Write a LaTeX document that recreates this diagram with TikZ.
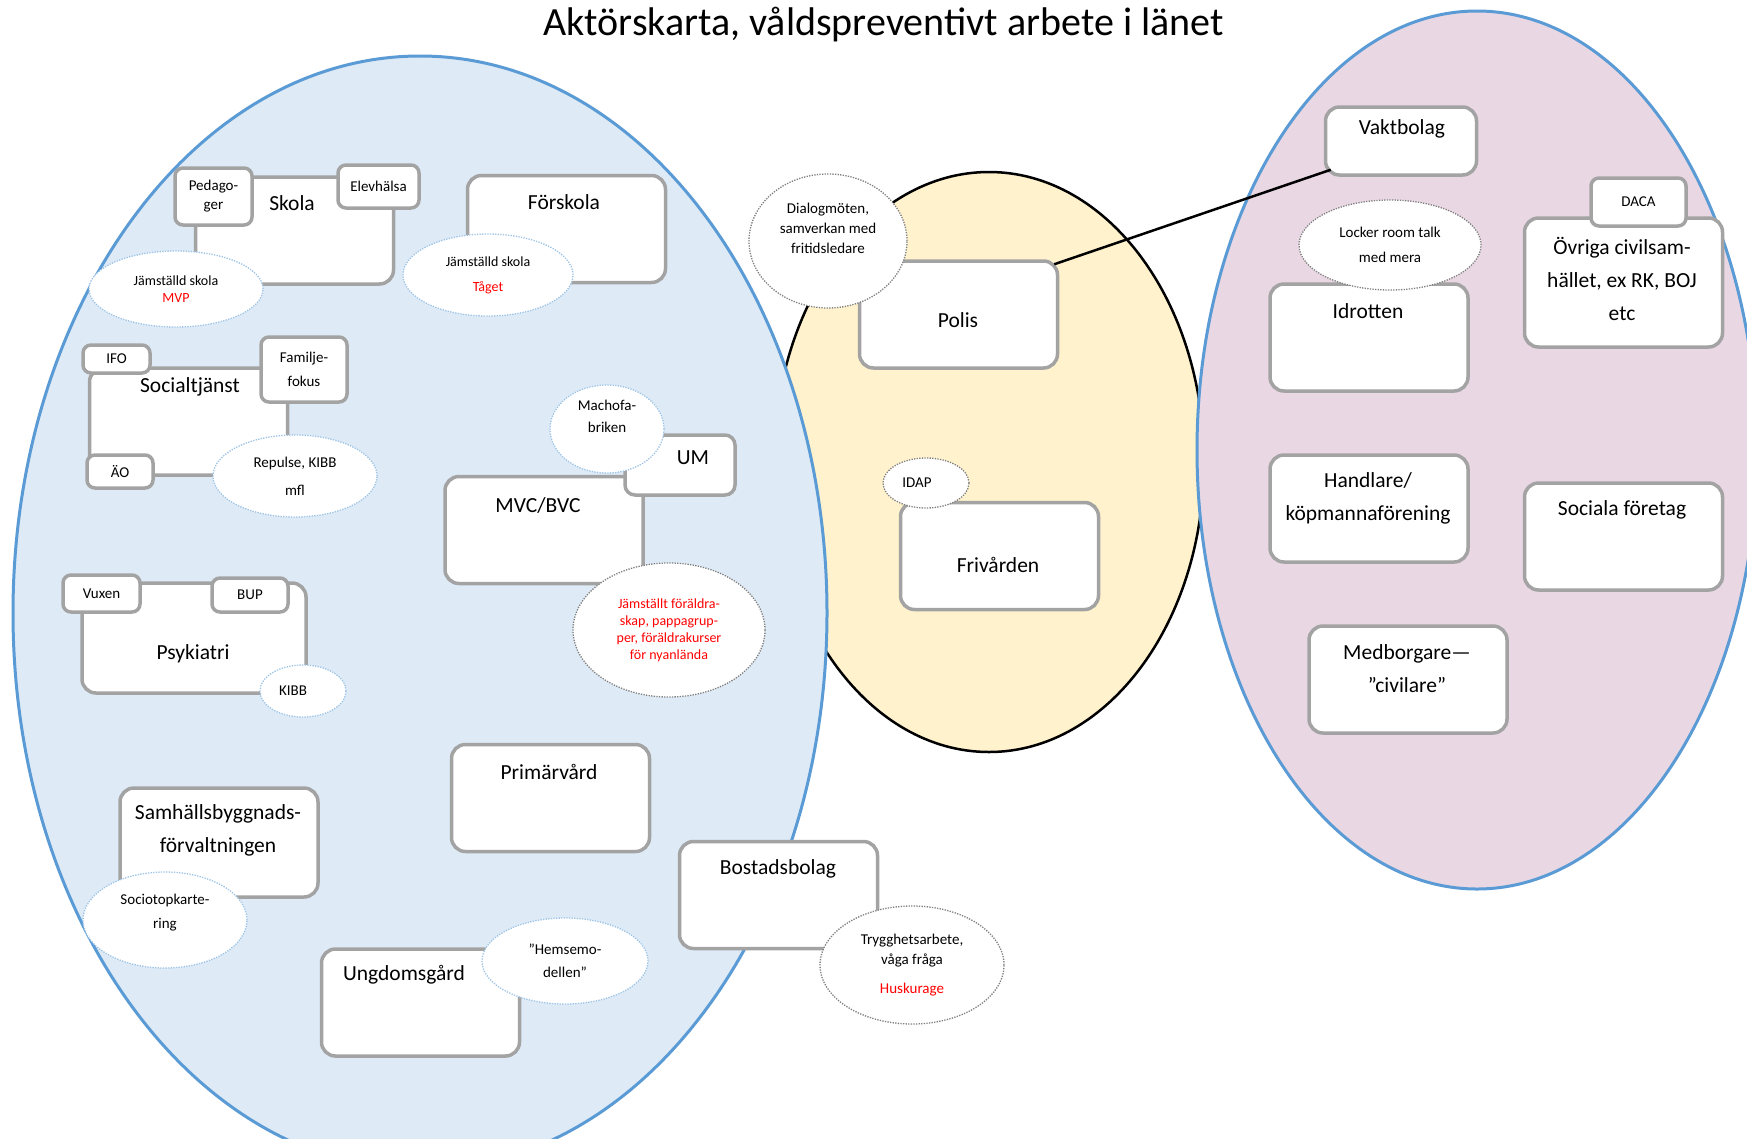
\documentclass[tikz,border=0pt]{standalone}
\usepackage{fontspec}
\setmainfont{Carlito}
\usetikzlibrary{shapes.geometric}

\definecolor{leftfill}{HTML}{DEEBF7}
\definecolor{midfill}{HTML}{FFF2CC}
\definecolor{rightfill}{HTML}{E9D8E4}
\definecolor{rimblue}{HTML}{5B9BD5}
\definecolor{boxgray}{HTML}{A3A3A3}
\definecolor{dotblue}{HTML}{9DC3E6}
\definecolor{dotgray}{HTML}{7F7F7F}

\newcommand{\actorfont}{\fontsize{21.5}{33}\selectfont}
\newcommand{\tagfont}{\fontsize{15}{19}\selectfont}
\newcommand{\notefont}{\fontsize{14}{17}\selectfont}

\begin{document}
\begin{tikzpicture}[x=1pt, y=-1pt,
  actor/.style={draw=boxgray, line width=3.5pt, fill=white, rounded corners=14pt,
    minimum width=198pt, minimum height=107pt, inner sep=0pt},
  actorlabel/.style={font=\actorfont, align=center, inner sep=0pt},
  subunit/.style={draw=boxgray, line width=3.5pt, fill=white, rounded corners=8pt,
    inner sep=0pt, font=\tagfont, align=center},
  effort/.style={ellipse, draw=dotblue, line width=1.3pt, dash pattern=on 1.3pt off 1.3pt,
    fill=white, inner sep=0pt, font=\tagfont, align=center}]

  \useasboundingbox (0,0) rectangle (1747,1138);
  \clip (0,0) rectangle (1747,1138);
  \fill[white] (0,0) rectangle (1747,1138);

  % Sectors
  \draw[line width=2.5pt, fill=midfill] (989,462) ellipse [x radius=215pt, y radius=290pt];
  \draw[rimblue, line width=3pt, fill=leftfill] (420,613) ellipse [x radius=407pt, y radius=557pt];
  \draw[rimblue, line width=3pt, fill=rightfill] (1477,450) ellipse [x radius=280pt, y radius=439pt];

  % Define nodes
  \node[actor] (skola) at (294.5,230.5) {};
  \node[actor] (forskola) at (566.5,229) {};
  \node[actor] (socialtj) at (188.5,421.5) {};
  \node[actor] (mvc) at (544,530) {};
  \node[actor, minimum width=224pt, minimum height=110pt] (psyk) at (194,638) {};
  \node[actor] (primar) at (550.5,798) {};
  \node[actor, minimum height=109pt] (samhall) at (219,842.5) {};
  \node[actor] (ungdom) at (420.5,1002.5) {};
  \node[actor] (bostad) at (778.5,895) {};
  \node[actor] (polis) at (958.5,314.5) {};
  \node[actor] (frivard) at (999.5,556) {};
  \node[actor, minimum width=151pt, minimum height=68pt] (vakt) at (1401,141) {};
  \node[actor] (idrott) at (1369,337.5) {};
  \node[actor, minimum height=129pt] (ovriga) at (1623.5,282.5) {};
  \node[actor] (handlare) at (1369,508.5) {};
  \node[actor] (sociala) at (1623.5,536.5) {};
  \node[actor] (medborg) at (1408,679.5) {};
  \node[actor, minimum width=110pt, minimum height=60pt, rounded corners=10pt] (um) at (680,465) {};

  \node[actorlabel] (skolatxt) at (292,203) {Skola};
  \node[actorlabel] (forskolatxt) at (564,202) {Förskola};
  \node[actorlabel] (socialtxt) at (190,387) {Socialtjänst};
  \node[actorlabel] (mvctxt) at (538,505) {MVC/BVC};
  \node[actorlabel] (umtxt) at (693,458) {UM};
  \node[actorlabel] (psyktxt) at (193,654) {Psykiatri};
  \node[actorlabel] (primartxt) at (549,772) {Primärvård};
  \node[actorlabel] (samhalltxt) at (218,830.5) {Samhällsbyggnads-\\förvaltningen};
  \node[actorlabel] (ungdomtxt) at (404,975) {Ungdomsgård};
  \node[actorlabel] (bostadtxt) at (778,869) {Bostadsbolag};
  \node[actorlabel] (polistxt) at (958,320) {Polis};
  \node[actorlabel] (frivardtxt) at (998,565) {Frivården};
  \node[actorlabel] (vakttxt) at (1402,129) {Vaktbolag};
  \node[actorlabel] (idrotttxt) at (1368,311) {Idrotten};
  \node[actorlabel] (ovrigatxt) at (1622,279) {Övriga civilsam-\\hället, ex RK, BOJ\\etc};
  \node[actorlabel] (handlaretxt) at (1368,498.5) {Handlare/\\köpmannaförening};
  \node[actorlabel] (socialatxt) at (1622,510) {Sociala företag};
  \node[actorlabel] (medborgtxt) at (1407,669) {Medborgare—\\”civilare”};

  \node[subunit, minimum width=77pt, minimum height=57pt] (pedag) at (213.5,196.5) {Pedago-\\ger};
  \node[subunit, minimum width=81pt, minimum height=43pt] (elev) at (378.5,186.5) {Elevhälsa};
  \node[subunit, minimum width=67pt, minimum height=28pt] (ifo) at (116.5,359) {IFO};
  \node[subunit, minimum width=86pt, minimum height=65pt] (famfokus) at (304,369.5) {Familje-\\[5pt]fokus};
  \node[subunit, minimum width=66pt, minimum height=33pt] (ao) at (120,471.5) {ÄO};
  \node[subunit, minimum width=77pt, minimum height=37pt] (vuxen) at (101.5,593.5) {Vuxen};
  \node[subunit, minimum width=76pt, minimum height=34pt] (bup) at (250,595) {BUP};
  \node[subunit, minimum width=95pt, minimum height=48pt] (daca) at (1638.5,202) {DACA};

  \node[effort, font=\notefont, minimum width=174pt, minimum height=76pt] (mvp) at (176,289)
    {Jämställd skola\\\textcolor{red}{MVP}};
  \node[effort, font=\notefont, minimum width=170pt, minimum height=82pt] (taget) at (488,275)
    {Jämställd skola\\[8pt]\textcolor{red}{Tåget}};
  \node[effort, minimum width=164pt, minimum height=82pt] (repulse) at (295,476) {Repulse, KIBB\\[9pt]mfl};
  \node[effort, minimum width=114pt, minimum height=88pt] (macho) at (607,429) {Machofa-\\[3pt]briken\\[7pt]\mbox{}};
  \node[effort, draw=dotgray, font=\notefont, text=red, minimum width=192pt, minimum height=134pt] (foraldra) at (669,630)
    {Jämställt föräldra-\\skap, pappagrup-\\per, föräldrakurser\\för nyanlända};
  \node[effort, draw=dotgray, minimum width=158pt, minimum height=134pt] (dialog) at (828,241)
    {Dialogmöten,\\[1pt]samverkan med\\[1pt]fritidsledare\\[7pt]\mbox{}};
  \node[effort, draw=dotgray, minimum width=86pt, minimum height=50pt] (idap) at (926,483) {IDAP\rule{18pt}{0pt}};
  \node[effort, draw=dotgray, minimum width=182pt, minimum height=90pt] (locker) at (1390,245) {Locker room talk\\[6pt]med mera};
  \node[effort, minimum width=86pt, minimum height=52pt] (kibb) at (303,691) {KIBB\rule{20pt}{0pt}};
  \node[effort, draw=dotgray, minimum width=184pt, minimum height=118pt] (trygg) at (912,965)
    {Trygghetsarbete,\\[1pt]våga fråga\\[10pt]\textcolor{red}{Huskurage}};
  \node[effort, minimum width=164pt, minimum height=96pt] (sociotop) at (165,920) {Sociotopkarte-\\[5pt]ring\\[-1pt]\mbox{}};
  \node[effort, minimum width=166pt, minimum height=86pt] (hemse) at (565,961) {”Hemsemo-\\[4pt]dellen”};

  % Connect the nodes
  \draw[line width=2.5pt] ([shift={(-5pt,-5pt)}]polis.north east) -- ([shift={(7pt,7pt)}]vakt.south west);

  \node[font=\fontsize{40}{48}\selectfont] (title) at (883.5,25) {Aktörskarta, våldspreventivt arbete i länet};

\end{tikzpicture}
\end{document}
